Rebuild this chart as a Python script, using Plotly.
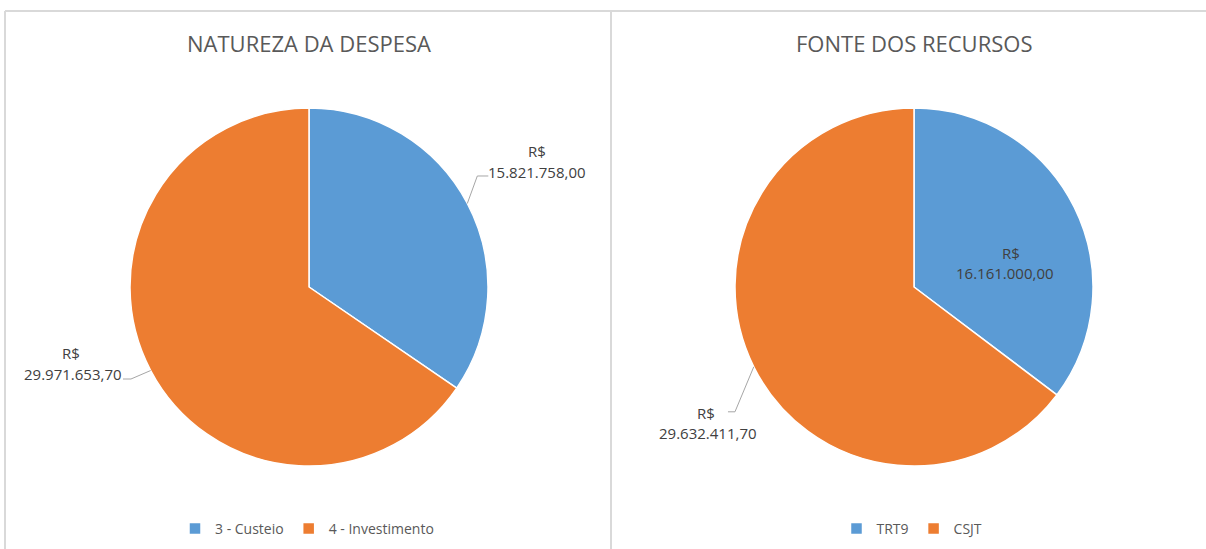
import math
import plotly.graph_objects as go

# ---------------- data ----------------
natureza_labels = ["3 - Custeio", "4 - Investimento"]
natureza_values = [15821758.00, 29971653.70]
fonte_labels = ["TRT9", "CSJT"]
fonte_values = [16161000.00, 29632411.70]
titles = ["NATUREZA DA DESPESA", "FONTE DOS RECURSOS"]

# ---------------- style / layout ----------------
W, H = 1206, 549
BLUE, ORANGE = "#5B9BD5", "#ED7D31"
FONT = "Open Sans"
TXT = "#404040"
TITLE_C = "#595959"
GRID = "#D9D9D9"
LEAD = "#A6A6A6"

R = 179
CENTERS = [(309, 287), (914, 287)]


def px(x):
    return x / W


def py(y):
    return 1 - y / H


def brl(v):
    s = f"{v:,.2f}"
    return s.replace(",", "X").replace(".", ",").replace("X", ".")


def edge_point(center, values, idx):
    total = sum(values)
    before = sum(values[:idx])
    theta = 2 * math.pi * (before + values[idx] / 2) / total
    cx, cy = center
    return cx + R * math.sin(theta), cy - R * math.cos(theta)


fig = go.Figure()

for i, (labels, values, leg) in enumerate(
    [(natureza_labels, natureza_values, "legend"), (fonte_labels, fonte_values, "legend2")]
):
    cx, cy = CENTERS[i]
    fig.add_trace(
        go.Pie(
            labels=labels,
            values=values,
            sort=False,
            direction="clockwise",
            rotation=0,
            textinfo="none",
            marker=dict(colors=[BLUE, ORANGE], line=dict(color="white", width=1.5)),
            domain=dict(x=[px(cx - R), px(cx + R)], y=[py(cy + R), py(cy - R)]),
            legend=leg,
            hovertemplate="%{label}<br>R$ %{value:,.2f}<extra></extra>",
        )
    )

annotations = []
shapes = []

# titles
for i, t in enumerate(titles):
    annotations.append(
        dict(
            text=t, x=px(CENTERS[i][0]), y=py(43), xref="paper", yref="paper",
            showarrow=False, xanchor="center", yanchor="middle",
            font=dict(family=FONT, size=22, color=TITLE_C),
        )
    )

# data labels: (chart, slice, R$ centre, number centre, leader offsets)
label_specs = [
    (0, 0, (537, 151), (537, 172), [(10, -27.5), (21, -27.5)]),
    (0, 1, (71, 353), (73, 374), [(-19.7, 8.5), (-27.7, 8.5)]),
    (1, 0, (1011, 253), (1005, 273), None),
    (1, 1, (706, 413), (708, 433), [(-18.8, 45), (-25.8, 45)]),
]
all_values = [natureza_values, fonte_values]
for chart, idx, rpos, npos, lead in label_specs:
    vals = all_values[chart]
    for txt, pos in (("R$", rpos), (brl(vals[idx]), npos)):
        annotations.append(
            dict(
                text=txt, x=px(pos[0]), y=py(pos[1]), xref="paper", yref="paper",
                showarrow=False, xanchor="center", yanchor="middle",
                font=dict(family=FONT, size=15, color=TXT),
            )
        )
    if lead:
        ex, ey = edge_point(CENTERS[chart], vals, idx)
        pts = [(ex, ey)] + [(ex + dx, ey + dy) for dx, dy in lead]
        path = "M " + " L ".join(f"{px(a):.5f},{py(b):.5f}" for a, b in pts)
        shapes.append(dict(type="path", path=path, xref="paper", yref="paper",
                           line=dict(color=LEAD, width=1)))

# frame lines
frame = [((5, 11), (W, 11)), ((5, 11), (5, H)), ((611, 11), (611, H))]
for (x0, y0), (x1, y1) in frame:
    shapes.append(dict(type="line", x0=px(x0), y0=py(y0), x1=px(x1), y1=py(y1),
                       xref="paper", yref="paper", line=dict(color=GRID, width=2)))

legend_common = dict(
    orientation="h", xanchor="center", yanchor="middle",
    font=dict(family=FONT, size=14, color=TITLE_C),
    bgcolor="rgba(0,0,0,0)", itemclick=False, itemdoubleclick=False,
)
fig.update_layout(
    width=W, height=H,
    margin=dict(l=0, r=0, t=0, b=0),
    paper_bgcolor="white", plot_bgcolor="white",
    font=dict(family=FONT),
    showlegend=True,
    legend=dict(x=px(307), y=py(529), **legend_common),
    legend2=dict(x=px(912), y=py(529), **legend_common),
    annotations=annotations,
    shapes=shapes,
)

fig.write_html(
    "out.html",
    config={"displayModeBar": False},
    post_script="document.body.style.margin='0';",
)
